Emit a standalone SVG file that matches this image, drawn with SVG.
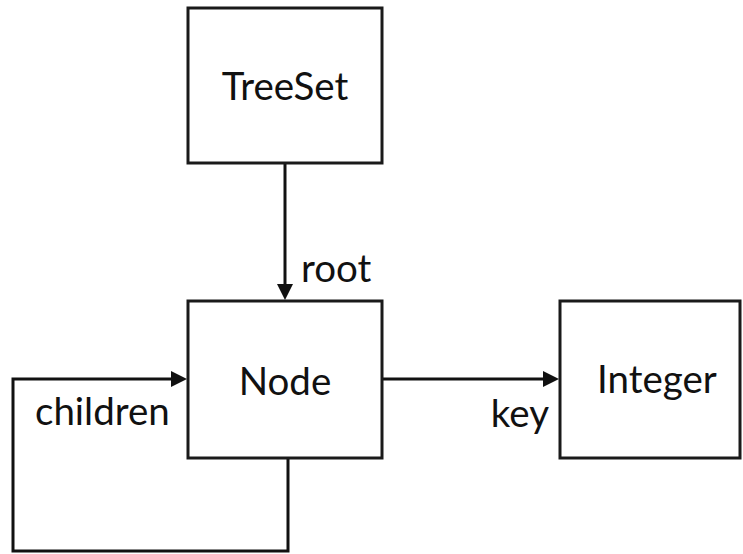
<svg xmlns="http://www.w3.org/2000/svg" width="743" height="554" viewBox="0 0 743 554">
<style>
.box{fill:#fff;stroke:#1a1a1a;stroke-width:3}
.lbl{font-family:Lato,"Open Sans",sans-serif;font-size:38.5px;fill:#111}
.conn{fill:none;stroke:#111;stroke-width:3}
.head{fill:#111}
</style>
<rect width="743" height="554" fill="#fff"/>
<g id="connectors">
<path class="conn" d="M285,163 V286"/>
<path class="head" d="M277,284 L285,300 L293,284 z"/>
<path class="conn" d="M382,379 H544"/>
<path class="head" d="M543,371 L559,379 L543,387 z"/>
<path class="conn" d="M288,458 V551 H13 V379 H172"/>
<path class="head" d="M171,371 L187,379 L171,387 z"/>
<text class="lbl" x="301" y="282">root</text>
<text class="lbl" x="549" y="427" text-anchor="end">key</text>
<text class="lbl" x="35" y="425">children</text>
</g>
<g id="treeset">
<rect class="box" x="188" y="8" width="194" height="155"/>
<text class="lbl" x="285" y="100" text-anchor="middle">TreeSet</text>
</g>
<g id="node">
<rect class="box" x="188" y="301" width="194" height="157"/>
<text class="lbl" x="285" y="395" text-anchor="middle">Node</text>
</g>
<g id="integer">
<rect class="box" x="560" y="301" width="180" height="157"/>
<text class="lbl" x="657" y="393" text-anchor="middle">Integer</text>
</g>
</svg>
